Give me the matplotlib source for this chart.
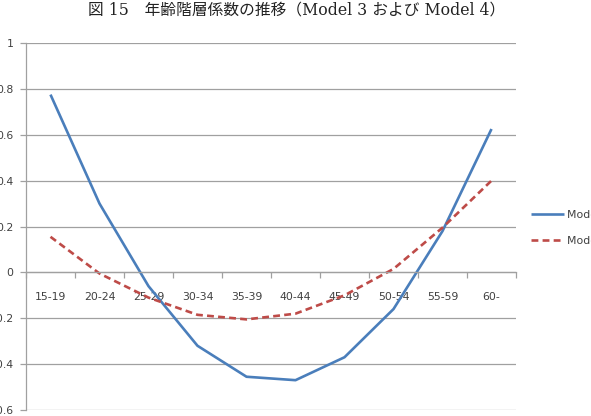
import matplotlib.pyplot as plt

categories = ["15-19", "20-24", "25-29", "30-34", "35-39",
              "40-44", "45-49", "50-54", "55-59", "60-"]
model3 = [0.775, 0.30, -0.06, -0.32, -0.455, -0.47, -0.37, -0.16, 0.18, 0.625]
model4 = [0.155, -0.005, -0.11, -0.185, -0.205, -0.18, -0.10, 0.015, 0.195, 0.40]
yticks = [-0.6, -0.4, -0.2, 0, 0.2, 0.4, 0.6, 0.8, 1]
title = "図 15　年齢階層係数の推移（Model 3 および Model 4）"

grey = "#A0A0A0"
label_color = "#404040"

fig = plt.figure(figsize=(5.91, 4.16), dpi=100)
ax = fig.add_axes([26 / 591, 1 - 410 / 416, 490 / 591, 367 / 416])

x = list(range(len(categories)))
ax.plot(x, model3, color="#4A7EBB", lw=1.9, label="Model 3",
        solid_capstyle="butt")
ax.plot(x, model4, color="#BE4B48", lw=1.9, ls=(0, (2.6, 1.6)),
        label="Model 4", dash_capstyle="butt")

ax.set_xlim(-0.5, len(categories) - 0.5)
ax.set_ylim(-0.6, 1)

# y axis
ax.set_yticks(yticks)
ax.set_yticklabels([f"{v:g}" for v in yticks])
ax.yaxis.grid(True, color=grey, lw=0.9)
ax.tick_params(axis="y", length=4, width=0.9, color=grey, pad=5,
               labelsize=7.8, labelcolor=label_color)

# category axis at zero
ax.spines["bottom"].set_position(("data", 0))
ax.spines["bottom"].set_color(grey)
ax.spines["bottom"].set_linewidth(0.9)
ax.spines["left"].set_color(grey)
ax.spines["left"].set_linewidth(0.9)
for side in ["top", "right"]:
    ax.spines[side].set_visible(False)
ax.set_xticks([i - 0.5 for i in range(len(categories) + 1)])
ax.set_xticklabels([])
ax.set_xticks(x, minor=True)
ax.set_xticklabels(categories, minor=True)
ax.tick_params(axis="x", which="major", length=4, width=0.9, color=grey)
ax.tick_params(axis="x", which="minor", length=0, pad=14,
               labelsize=7.8, labelcolor=label_color)
ax.set_axisbelow(True)

fig.legend(loc="center left", bbox_to_anchor=(527 / 591, 1 - 228 / 416),
           frameon=False, fontsize=7.8, handlelength=3.0,
           labelspacing=1.45, handletextpad=0.3, borderaxespad=0,
           labelcolor=label_color)

fig.text(297 / 591, 1 - 10 / 416, title, ha="center", va="center",
         fontsize=11.3, family=["DejaVu Serif", "Noto Sans CJK JP"],
         color="#222222")

fig.savefig("out.png", dpi=100, facecolor="white")
